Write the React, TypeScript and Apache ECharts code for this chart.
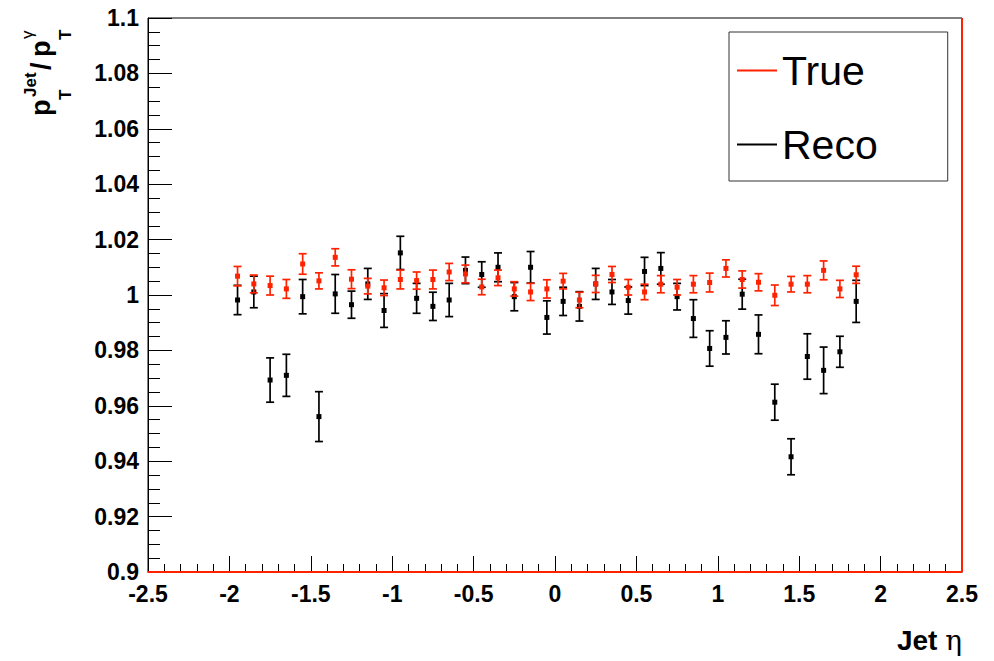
import React, { useEffect, useRef } from "react";
import * as echarts from "echarts";

const etaBins = [
  -1.95, -1.85, -1.75, -1.65, -1.55, -1.45, -1.35, -1.25, -1.15, -1.05,
  -0.95, -0.85, -0.75, -0.65, -0.55, -0.45, -0.35, -0.25, -0.15, -0.05,
  0.05, 0.15, 0.25, 0.35, 0.45, 0.55, 0.65, 0.75, 0.85, 0.95,
  1.05, 1.15, 1.25, 1.35, 1.45, 1.55, 1.65, 1.75, 1.85,
];

const trueVals = [
  1.0068, 1.004, 1.0034, 1.0022, 1.0112, 1.0051, 1.0136, 1.0057, 1.0032, 1.0026,
  1.0056, 1.0052, 1.0056, 1.0083, 1.0076, 1.0029, 1.0062, 1.0022, 1.0011, 1.0022,
  1.005, 0.9982, 1.004, 1.0074, 1.0028, 1.0011, 1.0039, 1.0028, 1.0039, 1.0045,
  1.0096, 1.0056, 1.0046, 0.9999, 1.0039, 1.0039, 1.0089, 1.0022, 1.0073,
];
const trueErrs = [
  0.0035, 0.0032, 0.0034, 0.0034, 0.0037, 0.0029, 0.0031, 0.0034, 0.0028, 0.0028,
  0.0034, 0.0031, 0.0034, 0.0031, 0.0032, 0.0028, 0.0028, 0.0026, 0.0031, 0.0033,
  0.0028, 0.0028, 0.0031, 0.0029, 0.0028, 0.0028, 0.0031, 0.0028, 0.0031, 0.0034,
  0.0031, 0.0031, 0.0031, 0.0037, 0.0028, 0.0031, 0.0034, 0.0031, 0.0031,
];

const recoVals = [
  0.9982, 1.0011, 0.9693, 0.971, 0.9994, 0.9561, 1.0004, 0.9965, 1.004, 0.9944,
  1.0152, 0.9988, 0.9959, 0.9982, 1.0089, 1.0074, 1.01, 0.9994, 1.01, 0.9919,
  0.9977, 0.9959, 1.004, 1.0011, 0.998, 1.0085, 1.0096, 0.9994, 0.9915, 0.9807,
  0.9847, 1.0003, 0.9858, 0.9613, 0.9416, 0.9778, 0.9728, 0.9795, 0.9977,
];
const recoErrs = [
  0.0053, 0.0057, 0.008, 0.0076, 0.0062, 0.009, 0.007, 0.0049, 0.0056, 0.0061,
  0.006, 0.0054, 0.0051, 0.006, 0.0048, 0.0046, 0.0052, 0.0051, 0.0057, 0.006,
  0.0051, 0.0053, 0.0056, 0.0045, 0.0049, 0.0051, 0.0057, 0.0048, 0.0068, 0.0064,
  0.006, 0.0054, 0.007, 0.0065, 0.0065, 0.0082, 0.0084, 0.0056, 0.0076,
];

const seriesNames = ["True", "Reco"];
const RED = "#ff2200";
const BLACK = "#000000";
const FONT = "'Liberation Sans', Arial, sans-serif";

function errRender(color: string) {
  return (params: any, api: any) => {
    const x = api.value(0);
    const y = api.value(1);
    const e = api.value(2);
    const c = api.coord([x, y]);
    const lo = api.coord([x, y - e]);
    const hi = api.coord([x, y + e]);
    const st = { stroke: color, lineWidth: 1.7 };
    return {
      type: "group",
      children: [
        { type: "line", shape: { x1: c[0], y1: hi[1], x2: c[0], y2: lo[1] }, style: st },
        { type: "line", shape: { x1: c[0] - 4, y1: hi[1], x2: c[0] + 4, y2: hi[1] }, style: st },
        { type: "line", shape: { x1: c[0] - 4, y1: lo[1], x2: c[0] + 4, y2: lo[1] }, style: st },
        { type: "rect", shape: { x: c[0] - 2.5, y: c[1] - 2.5, width: 5, height: 5 }, style: { fill: color } },
      ],
    };
  };
}

export default function App() {
  const ref = useRef<HTMLDivElement>(null);
  useEffect(() => {
    if (!ref.current) return;
    const chart = echarts.init(ref.current, undefined, { renderer: "svg" });
    const trueData = etaBins.map((x, i) => [x, trueVals[i], trueErrs[i]]);
    const recoData = etaBins.map((x, i) => [x, recoVals[i], recoErrs[i]]);
    const ttl = { fontFamily: FONT, fontWeight: "bold" as const, fill: "#000" };
    chart.setOption({
      animation: false,
      backgroundColor: "#fff",
      textStyle: { fontFamily: FONT },
      grid: {
        left: 148,
        top: 18,
        right: 32,
        bottom: 89,
        show: true,
        borderColor: "#000",
        borderWidth: 1,
        backgroundColor: "transparent",
      },
      xAxis: {
        type: "value",
        min: -2.5,
        max: 2.5,
        interval: 0.5,
        axisLine: { onZero: false, lineStyle: { color: "#000", width: 1 } },
        axisTick: { inside: true, length: 16, lineStyle: { color: "#000" } },
        minorTick: { show: true, splitNumber: 5, length: 8, lineStyle: { color: "#000" } },
        splitLine: { show: false },
        axisLabel: {
          color: "#000",
          fontSize: 23,
          fontWeight: "bold",
          fontFamily: FONT,
          margin: 10,
        },
      },
      yAxis: {
        type: "value",
        min: 0.9,
        max: 1.1,
        interval: 0.02,
        axisLine: { show: true, onZero: false, lineStyle: { color: "#000", width: 1 } },
        axisTick: { inside: true, length: 24, lineStyle: { color: "#000" } },
        minorTick: { show: true, splitNumber: 4, length: 12, lineStyle: { color: "#000" } },
        splitLine: { show: false },
        axisLabel: {
          color: "#000",
          fontSize: 23,
          fontWeight: "bold",
          fontFamily: FONT,
          margin: 9,
          formatter: (v: number) => String(parseFloat(v.toFixed(3))),
        },
      },
      legend: {
        orient: "vertical",
        left: 729,
        top: 32,
        padding: [18, 70, 16, 8],
        itemGap: 33,
        itemWidth: 40,
        itemHeight: 2,
        borderColor: "#333",
        borderWidth: 1,
        backgroundColor: "#fff",
        selectedMode: false,
        textStyle: { fontSize: 41, color: "#000", fontFamily: FONT },
        data: [
          { name: seriesNames[0], icon: "rect" },
          { name: seriesNames[1], icon: "rect" },
        ],
      },
      graphic: [
        {
          type: "group",
          x: 49,
          y: 116,
          rotation: Math.PI / 2,
          children: [
            { type: "text", x: 0, y: -8, style: { ...ttl, text: "p", fontSize: 27, verticalAlign: "middle" } },
            { type: "text", x: 16, y: 16, style: { ...ttl, text: "T", fontSize: 17, verticalAlign: "middle" } },
            { type: "text", x: 19, y: -19, style: { ...ttl, text: "Jet", fontSize: 17, verticalAlign: "middle" } },
            { type: "text", x: 46, y: -8, style: { ...ttl, text: "/", fontSize: 27, verticalAlign: "middle" } },
            { type: "text", x: 59, y: -8, style: { ...ttl, text: "p", fontSize: 27, verticalAlign: "middle" } },
            { type: "text", x: 76, y: 16, style: { ...ttl, text: "T", fontSize: 17, verticalAlign: "middle" } },
            { type: "text", x: 77, y: -22, style: { ...ttl, text: "γ", fontSize: 17, fontWeight: "normal", verticalAlign: "middle" } },
          ],
        },
        {
          type: "text",
          right: 32,
          top: 626,
          style: {
            text: "{a|Jet }{b|η}",
            rich: {
              a: { fontFamily: FONT, fontWeight: "bold", fontSize: 28, fill: "#000" },
              b: { fontFamily: "'DejaVu Serif', 'Liberation Serif', serif", fontSize: 28, fill: "#000" },
            },
          },
        },
      ],
      series: [
        {
          name: seriesNames[1],
          type: "custom",
          renderItem: errRender(BLACK),
          itemStyle: { color: BLACK },
          encode: { x: 0, y: 1 },
          data: recoData,
          z: 2,
        },
        {
          name: seriesNames[0],
          type: "custom",
          renderItem: errRender(RED),
          itemStyle: { color: RED },
          encode: { x: 0, y: 1 },
          data: trueData,
          z: 3,
          markLine: {
            silent: true,
            symbol: "none",
            label: { show: false },
            lineStyle: { color: RED, width: 2, type: "solid" },
            data: [{ yAxis: 0.9 }, { xAxis: 2.5 }],
          },
        },
      ],
    });
    return () => chart.dispose();
  }, []);
  return (
    <div
      ref={ref}
      style={{ position: "fixed", left: 0, top: 0, width: 994, height: 661, background: "#fff" }}
    />
  );
}
